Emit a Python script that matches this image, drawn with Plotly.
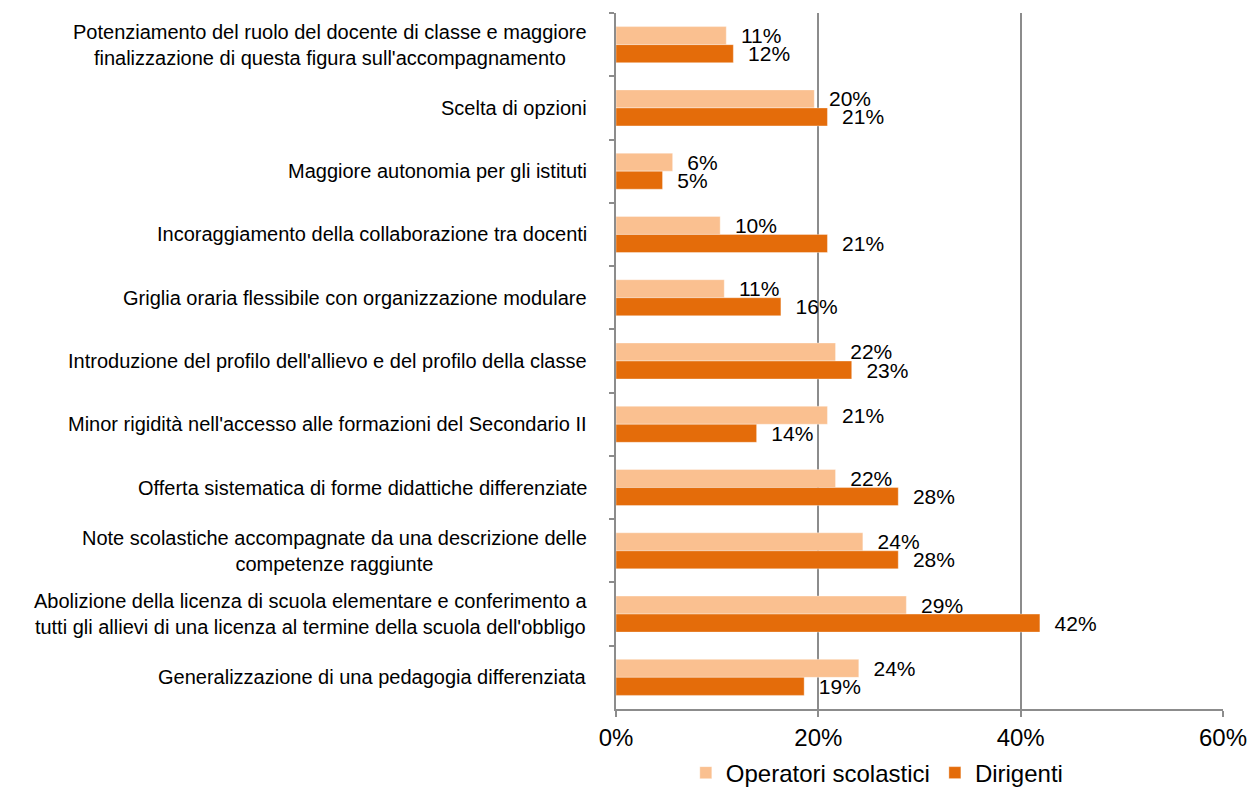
import plotly.graph_objects as go

categories = [
    "Potenziamento del ruolo del docente di classe e maggiore<br>finalizzazione di questa figura sull'accompagnamento",
    "Scelta di opzioni",
    "Maggiore autonomia per gli istituti",
    "Incoraggiamento della collaborazione tra docenti",
    "Griglia oraria flessibile con organizzazione modulare",
    "Introduzione del profilo dell'allievo e del profilo della classe",
    "Minor rigidità nell'accesso alle formazioni del Secondario II",
    "Offerta sistematica di forme didattiche differenziate",
    "Note scolastiche accompagnate da una descrizione delle<br>competenze raggiunte",
    "Abolizione della licenza di scuola elementare e conferimento a<br>tutti gli allievi di una licenza al termine della scuola dell'obbligo",
    "Generalizzazione di una pedagogia differenziata",
]
operatori = [10.9, 19.6, 5.6, 10.3, 10.7, 21.7, 20.9, 21.7, 24.4, 28.7, 24.0]
dirigenti = [11.6, 20.9, 4.6, 20.9, 16.3, 23.3, 13.9, 27.9, 27.9, 41.9, 18.6]
x_ticks = [0, 20, 40, 60]

FONT = "Arial, 'Liberation Sans', sans-serif"
LIGHT = "#FAC090"
DARK = "#E46C0A"
GRID = "#8C8C8C"

fig = go.Figure()
for name, vals, col in [("Operatori scolastici", operatori, LIGHT), ("Dirigenti", dirigenti, DARK)]:
    fig.add_trace(go.Bar(
        name=name, y=categories, x=vals, orientation="h",
        marker=dict(color=col, line=dict(color="rgba(255,255,255,0.6)", width=0.6)),
        texttemplate="\u00a0\u00a0%{x:.0f}%", textposition="outside",
        textfont=dict(family=FONT, size=21, color="#000000"),
        constraintext="none", cliponaxis=False,
    ))

for c in categories:
    fig.add_annotation(
        x=0, xref="paper", y=c, yref="y", text=c, showarrow=False,
        xanchor="right", yanchor="middle", align="center", xshift=-27,
        font=dict(family=FONT, size=20, color="#000000"),
    )

fig.update_layout(
    width=1252, height=787,
    margin=dict(l=616, r=29, t=13, b=78, autoexpand=False),
    paper_bgcolor="white", plot_bgcolor="white",
    barmode="group", bargap=0.43, bargroupgap=0,
    font=dict(family=FONT, color="#000000"),
    showlegend=True,
    legend=dict(
        orientation="h", x=0.115, xanchor="left", y=-0.092, yanchor="middle",
        font=dict(family=FONT, size=24, color="#000000"),
        traceorder="normal", itemwidth=30,
    ),
)
fig.update_xaxes(
    range=[0, 60], tickvals=x_ticks, ticktext=[f"{v}%" for v in x_ticks],
    showgrid=True, gridcolor=GRID, gridwidth=1.5,
    showline=True, linecolor=GRID, linewidth=1.5,
    ticks="outside", ticklen=6, tickcolor=GRID, tickwidth=1.5,
    zeroline=False, tickfont=dict(family=FONT, size=24, color="#000000"),
)
fig.update_yaxes(
    autorange="reversed", type="category",
    showticklabels=False, showline=True, linecolor=GRID, linewidth=1.5,
    ticks="outside", ticklen=5, tickcolor=GRID, tickwidth=1.5, tickson="boundaries",
    showgrid=False, zeroline=False,
)

fig.write_html(
    "out.html",
    config={"displayModeBar": False},
    post_script="document.body.style.margin='0';document.body.style.overflow='hidden';",
)
